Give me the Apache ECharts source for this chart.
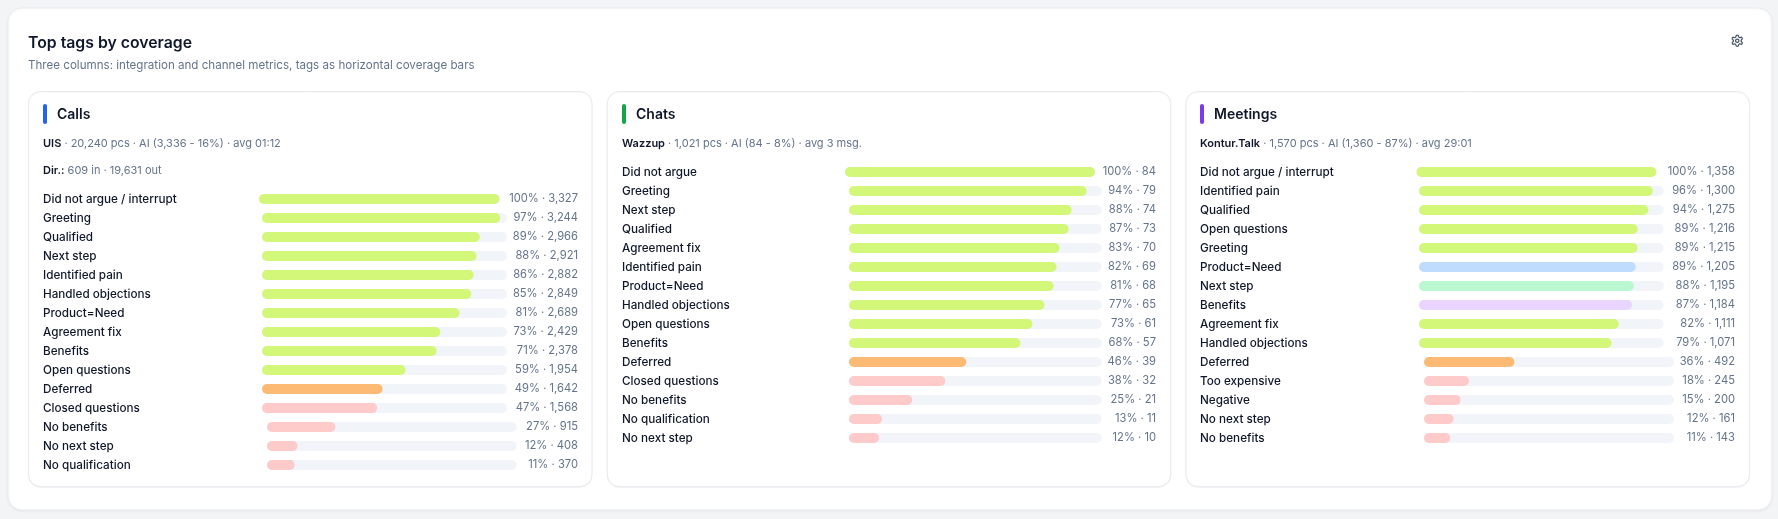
<!DOCTYPE html>
<html><head><meta charset="utf-8"><style>html,body{margin:0;padding:0;background:#f3f4f6}#c{width:1778px;height:519px}</style>
<script src="https://cdn.jsdelivr.net/npm/echarts@6/dist/echarts.min.js"></script></head>
<body><div id="c"></div><script>
const callsTags=['Did not argue / interrupt','Greeting','Qualified','Next step','Identified pain','Handled objections','Product=Need','Agreement fix','Benefits','Open questions','Deferred','Closed questions','No benefits','No next step','No qualification'];
const callsPct=[100,97,89,88,86,85,81,73,71,59,49,47,27,12,11];
const callsCount=[3327,3244,2966,2921,2882,2849,2689,2429,2378,1954,1642,1568,915,408,370];
const callsTone=['good','good','good','good','good','good','good','good','good','good','wait','bad','bad','bad','bad'];
const callsAi=3336;
const chatsTags=['Did not argue','Greeting','Next step','Qualified','Agreement fix','Identified pain','Product=Need','Handled objections','Open questions','Benefits','Deferred','Closed questions','No benefits','No qualification','No next step'];
const chatsPct=[100,94,88,87,83,82,81,77,73,68,46,38,25,13,12];
const chatsCount=[84,79,74,73,70,69,68,65,61,57,39,32,21,11,10];
const chatsTone=['good','good','good','good','good','good','good','good','good','good','wait','bad','bad','bad','bad'];
const chatsAi=84;
const meetTags=['Did not argue / interrupt','Identified pain','Qualified','Open questions','Greeting','Product=Need','Next step','Benefits','Agreement fix','Handled objections','Deferred','Too expensive','Negative','No next step','No benefits'];
const meetPct=[100,96,94,89,89,89,88,87,82,79,36,18,15,12,11];
const meetCount=[1358,1300,1275,1216,1215,1205,1195,1184,1111,1071,492,245,200,161,143];
const meetTone=['good','good','good','good','good','blue','mint','violet','good','good','wait','bad','bad','bad','bad'];
const meetAi=1360;

const FONT='Inter';
const toneColor={good:'#d3f779',wait:'#fdba74',bad:'#fecaca',blue:'#bfdbfe',mint:'#bbf7d0',violet:'#e9d5ff'};
const TRACK='#f1f4f9',INK='#0f172a',MUTED='#64748b';
const panels=[
 {name:'Calls',accent:'#2563eb',x:28,w:564.5,textX:43,valueRight:578,firstRow:199,tags:callsTags,pct:callsPct,count:callsCount,tone:callsTone,ai:callsAi,
  meta:[['UIS',' · 20,240 pcs · AI (3,336 - 16%) · avg 01:12'],['Dir.:',' 609 in · 19,631 out']],
  groups:[[0,1,259,500],[1,12,262,507],[12,15,267,516.6]]},
 {name:'Chats',accent:'#16a34a',x:606.7,w:564.5,textX:622,valueRight:1156,firstRow:172,tags:chatsTags,pct:chatsPct,count:chatsCount,tone:chatsTone,ai:chatsAi,
  meta:[['Wazzup',' · 1,021 pcs · AI (84 - 8%) · avg 3 msg.']],
  groups:[[0,1,845,1095],[1,15,849,1101.7]]},
 {name:'Meetings',accent:'#7c3aed',x:1185.4,w:564.6,textX:1200,valueRight:1735,firstRow:172,tags:meetTags,pct:meetPct,count:meetCount,tone:meetTone,ai:meetAi,
  meta:[['Kontur.Talk',' · 1,570 pcs · AI (1,360 - 87%) · avg 29:01']],
  groups:[[0,1,1416.5,1656.7],[1,10,1419,1663.6],[10,15,1424,1674]]}
];
echarts.graphic.registerShape('gear',echarts.graphic.extendPath('M12.22 2h-.44a2 2 0 0 0-2 2v.18a2 2 0 0 1-1 1.73l-.43.25a2 2 0 0 1-2 0l-.15-.08a2 2 0 0 0-2.73.73l-.22.38a2 2 0 0 0 .73 2.73l.15.1a2 2 0 0 1 1 1.72v.51a2 2 0 0 1-1 1.74l-.15.09a2 2 0 0 0-.73 2.73l.22.38a2 2 0 0 0 2.73.73l.15-.08a2 2 0 0 1 2 0l.43.25a2 2 0 0 1 1 1.73V20a2 2 0 0 0 2 2h.44a2 2 0 0 0 2-2v-.18a2 2 0 0 1 1-1.73l.43-.25a2 2 0 0 1 2 0l.15.08a2 2 0 0 0 2.73-.73l.22-.39a2 2 0 0 0-.73-2.73l-.15-.08a2 2 0 0 1-1-1.74v-.5a2 2 0 0 1 1-1.74l.15-.09a2 2 0 0 0 .73-2.73l-.22-.38a2 2 0 0 0-2.73-.73l-.15.08a2 2 0 0 1-2 0l-.43-.25a2 2 0 0 1-1-1.73V4a2 2 0 0 0-2-2zM12 9a3 3 0 1 0 0 6 3 3 0 0 0 0-6z',{}));
const ROW=19,BAR=10;
const grid=[],xAxis=[],yAxis=[],series=[];
const title=[{text:'Top tags by coverage',left:28,top:33,padding:0,textStyle:{fontFamily:FONT,fontSize:15.8,fontWeight:600,color:INK,lineHeight:20},
  subtext:'Three columns: integration and channel metrics, tags as horizontal coverage bars',itemGap:5,subtextStyle:{fontFamily:FONT,fontSize:11.6,fontWeight:400,color:MUTED,lineHeight:16}}];
const graphic=[
 {type:'rect',z:0,shape:{x:8,y:8,width:1764,height:502,r:14},style:{fill:'#fff',stroke:'#e9ebef',lineWidth:1,shadowBlur:3,shadowColor:'rgba(15,23,42,.06)',shadowOffsetY:1}},
 {type:'gear',z:1,x:1730.5,y:34,scaleX:13.5/24,scaleY:13.5/24,style:{fill:'none',stroke:'#475569',lineWidth:2.2}}
];
panels.forEach(p=>{
 graphic.push({type:'rect',z:1,shape:{x:p.x+.5,y:91.5,width:p.w-1,height:395,r:12},style:{fill:'#fff',stroke:'#e8eaee',lineWidth:1,shadowBlur:1,shadowColor:'rgba(15,23,42,.04)',shadowOffsetY:1}});
 graphic.push({type:'rect',z:2,shape:{x:p.textX,y:104,width:4,height:20,r:2},style:{fill:p.accent}});
 title.push({text:p.name,left:p.textX+14,top:105.5,padding:0,textStyle:{fontFamily:FONT,fontSize:14,fontWeight:600,color:INK,lineHeight:18}});
 p.meta.forEach((m,i)=>title.push({text:`{b|${m[0]}}{m|${m[1]}}`,left:p.textX,top:135.5+i*27,padding:0,textStyle:{fontFamily:FONT,fontSize:11,fontWeight:400,lineHeight:16,rich:{b:{fontFamily:FONT,fontSize:11,fontWeight:600,color:INK},m:{fontFamily:FONT,fontSize:11,fontWeight:400,color:MUTED}}}}));
 p.groups.forEach(g=>{
  const [from,to,left,right]=g, gi=grid.length;
  const ids=[];for(let i=from;i<to;i++)ids.push(i);
  grid.push({left,width:right-left,top:p.firstRow+from*ROW-ROW/2,height:(to-from)*ROW,outerBoundsMode:'none'});
  xAxis.push({gridIndex:gi,type:'value',min:0,max:p.ai,show:false});
  const common={gridIndex:gi,type:'category',inverse:true,z:10,axisLine:{show:false},axisTick:{show:false},splitLine:{show:false}};
  const li=yAxis.length;
  yAxis.push({...common,position:'left',data:ids.map(i=>p.tags[i]),axisLabel:{interval:0,align:'left',margin:left-p.textX,padding:[2,0,0,0],fontFamily:FONT,fontSize:11.7,fontWeight:500,color:INK}});
  yAxis.push({...common,position:'right',data:ids.map(i=>`${p.pct[i]}% · ${p.count[i].toLocaleString('en-US')}`),axisLabel:{interval:0,align:'right',margin:p.valueRight-right,padding:[2,0,0,0],fontFamily:FONT,fontSize:11.2,color:MUTED}});
  series.push({type:'bar',name:p.name+' scale',silent:true,xAxisIndex:gi,yAxisIndex:li+1,barWidth:BAR,z:2,animation:false,itemStyle:{color:TRACK,borderRadius:5},data:ids.map(()=>p.ai)});
  series.push({type:'bar',name:p.name,xAxisIndex:gi,yAxisIndex:li,barWidth:BAR,z:3,animation:false,itemStyle:{borderRadius:5},data:ids.map(i=>({value:p.count[i],itemStyle:{color:toneColor[p.tone[i]]}}))});
 });
});
echarts.init(document.getElementById('c')).setOption({animation:false,backgroundColor:'transparent',tooltip:{show:false},title,graphic,grid,xAxis,yAxis,series});
</script></body></html>
